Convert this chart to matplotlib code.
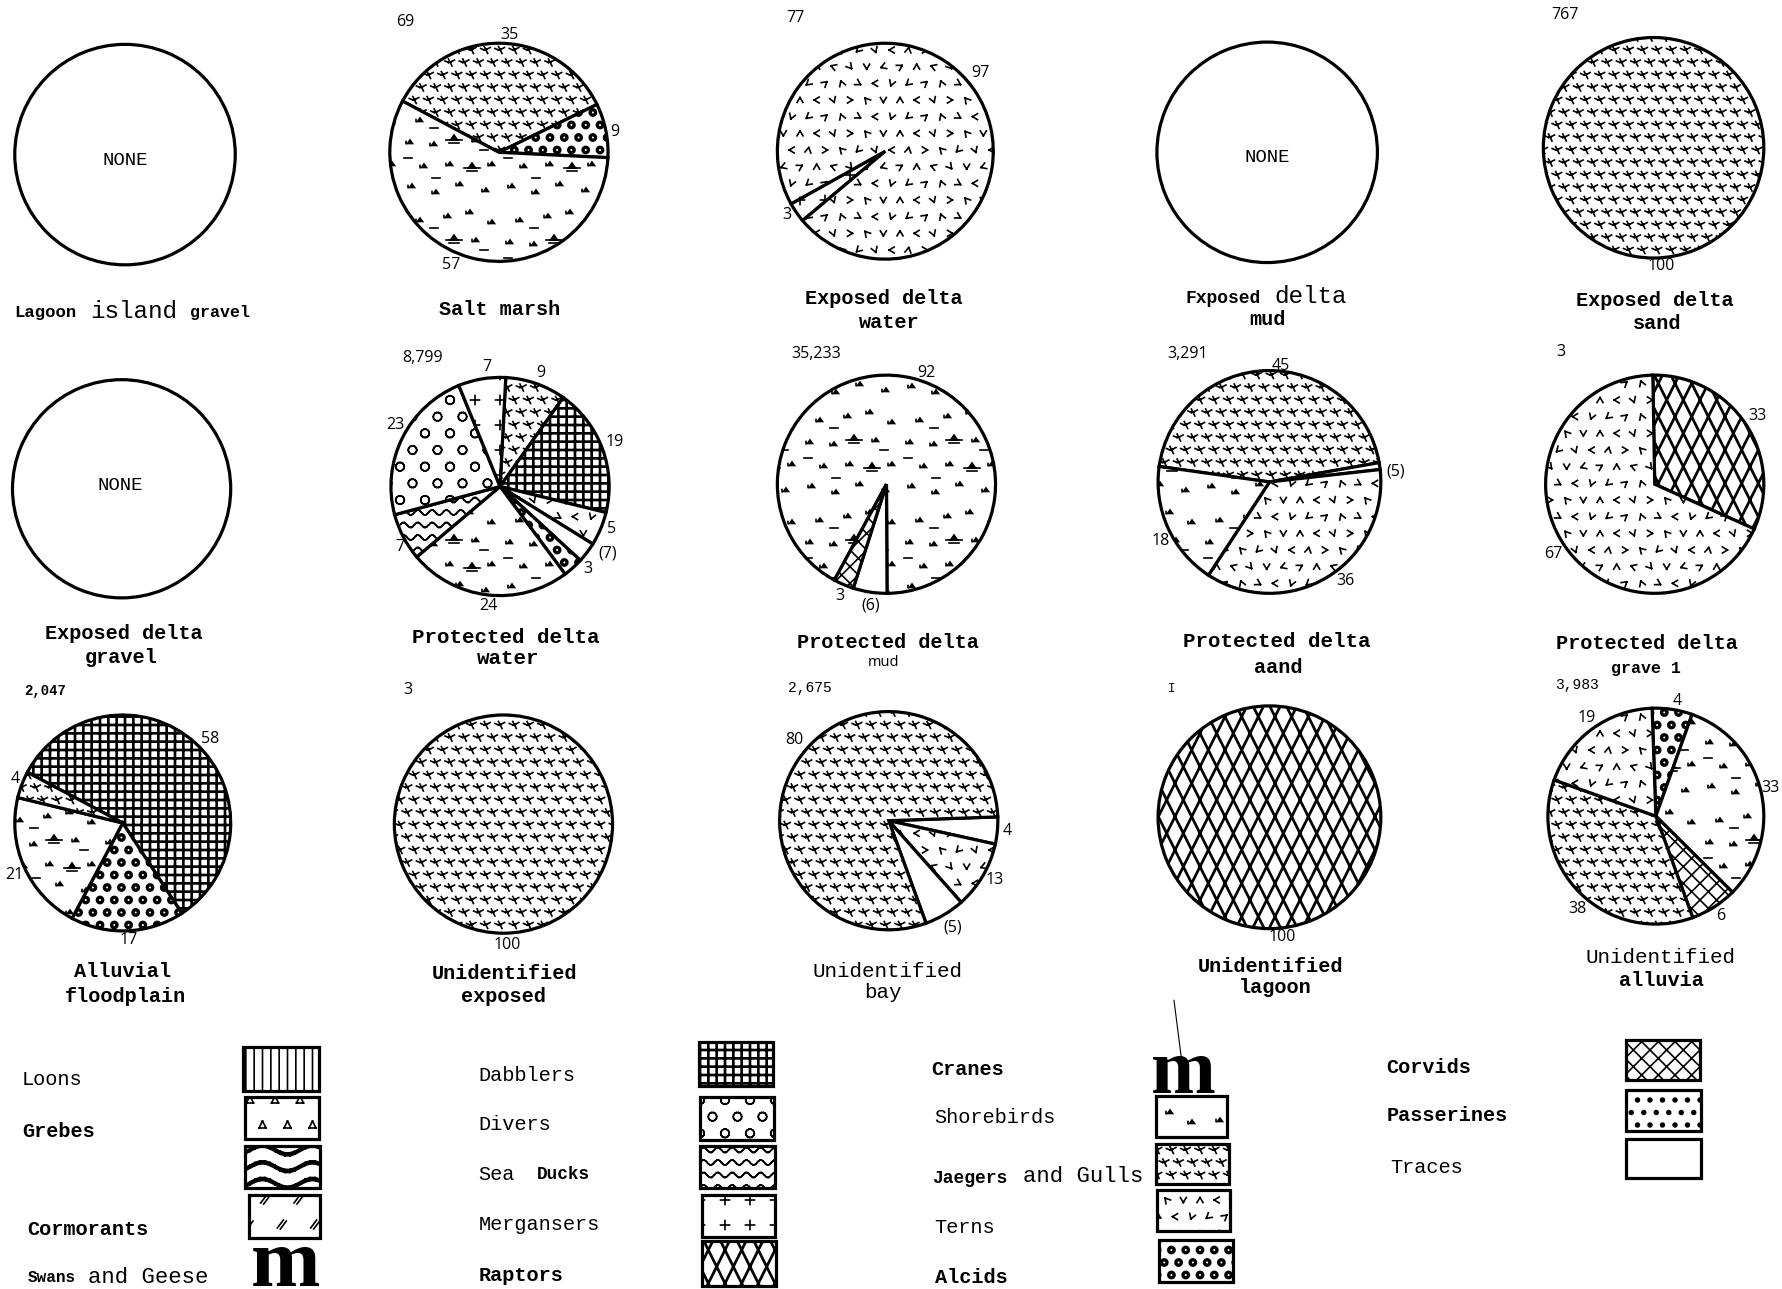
import warnings
import numpy as np
import matplotlib
matplotlib.use("Agg")
import matplotlib.hatch as mhatch
import matplotlib.pyplot as plt
from matplotlib.patches import Rectangle
from matplotlib.path import Path

# custom hatch letters below are registered by hand
warnings.filterwarnings("ignore", category=matplotlib.MatplotlibDeprecationWarning)

# ---- pie data: percent per slice, clockwise from start angle ----
salt_marsh = [35, 8, 57]
delta_water = [3, 97]
prot_water = [9, 19, 5, 3, 3, 24, 7, 23, 7]
prot_mud = [92, 5, 3]
prot_sand = [45, 1, 36, 18]
prot_gravel = [32, 68]
alluvial = [58, 17, 21, 4]
unid_bay = [4, 10, 6, 80]
unid_alluvia = [6, 32, 7, 36, 19]
whole = [100]

salt_groups = ["gulls", "alcids", "shorebirds"]
delta_water_groups = ["mergansers", "terns"]
prot_water_groups = ["gulls", "dabblers", "terns", "traces", "alcids", "shorebirds",
                     "seaducks", "divers", "mergansers"]
prot_mud_groups = ["shorebirds", "traces", "corvids"]
prot_sand_groups = ["gulls", "traces", "terns", "shorebirds"]
prot_gravel_groups = ["raptors", "terns"]
alluvial_groups = ["dabblers", "alcids", "shorebirds", "gulls"]
bay_groups = ["traces", "terns", "traces", "gulls"]
alluvia_groups = ["alcids", "shorebirds", "corvids", "gulls", "terns"]

BOLD = "bold"
THIN = "thin"


# ---- fill patterns, tile is 100 px wide at dpi 100 ----
def ring(r, n=14):
    t = np.linspace(0, 2 * np.pi, n + 1)
    return np.c_[r * np.cos(t), r * np.sin(t)]


class Tile(mhatch.HatchPatternBase):
    char = ""
    verts = np.empty((0, 2))
    codes = np.empty(0, dtype=Path.code_type)

    def __init__(self, hatch, density):
        self.num_vertices = len(self.verts) if self.char in hatch else 0

    def set_vertices_and_codes(self, vertices, codes):
        vertices[:] = self.verts
        codes[:] = self.codes


def add_tile(char, placed):
    """placed: list of (x, y, rot, [(pts, closed), ...]) in tile pixels"""
    vv, cc = [], []
    for x, y, rot, shape in placed:
        a = np.radians(rot)
        m = np.array([[np.cos(a), -np.sin(a)], [np.sin(a), np.cos(a)]])
        for pts, closed in shape:
            p = np.asarray(pts, float) @ m.T + [x, y]
            if closed:
                vv += list(p) + [p[0]]
                cc += [Path.MOVETO] + [Path.LINETO] * (len(p) - 1) + [Path.CLOSEPOLY]
            else:
                for a0, a1 in zip(p[:-1], p[1:]):
                    vv += [a0, a1]
                    cc += [Path.MOVETO, Path.LINETO]
    cls = type("Tile_" + char, (Tile,), {"char": char, "verts": np.array(vv) / 100.0,
                                         "codes": np.array(cc, dtype=Path.code_type)})
    mhatch._hatch_types.append(cls)


def grid(nx, ny, shape, stagger=True, rots=(0,)):
    out = []
    for j in range(ny + 1):
        off = 0.5 if (stagger and j % 2) else 0
        for i in range(-1, nx + 1):
            rot = rots[(i % nx + (j % ny) * nx) % len(rots)]
            out.append(((i + off) * 100 / nx, j * 100 / ny, rot, shape))
    return out


def wave_rows(ny, periods, amp, offsets=(0,)):
    x = np.linspace(0, 100, periods * 10 + 1)
    out = []
    for j in range(ny + 1):
        for d in offsets:
            pts = np.c_[x, amp * np.sin(2 * np.pi * periods * x / 100) + d]
            out.append((0, j * 100 / ny, 0, [(pts, False)]))
    return out


gull = [([(-5, 1.5), (-1.5, 0), (1, 0.7), (4.5, 2.5)], False), ([(-1.5, 3.5), (2, -3.5)], False)]
tuft = [([(-2.5, -1.5), (0, 2), (2.5, -1.5)], True), ([(-4, -1.5), (-4, 0.5)], False)]
big_tuft = [([(-8, -2), (8, -2)], False), ([(-3.5, -2), (0, 3), (3.5, -2)], True),
            ([(-5, -5), (5, -5)], False)]
dash = [([(-4, 0), (4, 0)], False)]
chevron = [([(-3, -2.5), (0, 2.5), (3, -2.5)], False)]
plus = [([(-4.5, 0), (4.5, 0)], False), ([(0, -4.5), (0, 4.5)], False)]
tri = [([(-3.5, -3), (0, 4), (3.5, -3), (-3.5, -3)], False)]
slashes = [([(-3, -4), (3, 4)], False), ([(-6, -3), (0, 5)], False)]
holed = [(ring(3.6)[:-1], True), (ring(1.9)[:-1][::-1], True)]

add_tile("g", grid(7, 8, gull))
add_tile("b", [(12, 14, 0, tuft), (36, 8, 0, tuft), (60, 16, 0, tuft), (86, 10, 0, tuft),
               (24, 34, 0, tuft), (50, 36, 0, tuft), (92, 36, 0, tuft),
               (10, 58, 0, tuft), (34, 56, 0, tuft), (76, 60, 0, tuft),
               (20, 80, 0, tuft), (48, 84, 0, tuft), (70, 88, 0, tuft), (92, 78, 0, tuft),
               (72, 34, 0, big_tuft), (54, 62, 0, big_tuft),
               (36, 22, 0, dash), (8, 42, 0, dash), (84, 50, 0, dash), (34, 72, 0, dash)])
add_tile("v", grid(6, 6, chevron, rots=(0, 90, 200, 270, 40, 180, 130, 310, 20, 240, 90, 160,
                                        300, 0, 70, 220, 180, 110, 350, 270, 45, 135, 200, 90)))
add_tile("e", grid(4, 6, [(ring(4.2), False)]))
add_tile("a", grid(7, 8, holed))
add_tile("p", grid(8, 8, [(ring(1.9)[:-1], True)]))
add_tile("m", grid(4, 4, plus, stagger=False))
add_tile("t", grid(4, 4, tri))
add_tile("c", grid(3, 4, slashes))
add_tile("d", wave_rows(8, 7, 2.5))
add_tile("w", wave_rows(6, 2, 4.5, offsets=(-1.5, 0, 1.5)))
lat = []
for i in range(-3, 9):
    for d in (-0.6, 0.6):
        x0 = i * 100 / 6 + d
        lat.append((0, 0, 0, [([(x0, 0), (x0 + 50, 100)], False)]))
        lat.append((0, 0, 0, [([(x0 + 50, 0), (x0, 100)], False)]))
add_tile("r", lat)
cross = []
for i in range(13):
    for d in (-0.5, 0.5):
        p = i * 100 / 12 + d
        cross.append((0, 0, 0, [([(p, 0), (p, 100)], False)]))
        cross.append((0, 0, 0, [([(0, p), (100, p)], False)]))
add_tile("h", cross)

hatches = {
    "loons": "||", "grebes": "t", "waves": "w", "cormorants": "c", "swans": "p",
    "dabblers": "h", "divers": "e", "seaducks": "d", "mergansers": "m", "raptors": "r",
    "cranes": None, "shorebirds": "b", "gulls": "g", "terns": "v", "alcids": "a",
    "corvids": "xx", "passerines": "p", "traces": None,
}

plt.rcParams["hatch.linewidth"] = 1.2
plt.rcParams["font.family"] = "Liberation Mono"

fig = plt.figure(figsize=(17.82, 12.89), dpi=100, facecolor="white")
ax = fig.add_axes([0, 0, 1, 1])
ax.set_zorder(5)
ax.set_xlim(0, 1568)
ax.set_ylim(1134, 0)
ax.axis("off")


def pie(cx, cy, r, values, groups=None, start=90):
    pad = 1.08
    w = 2 * r * pad / 1568
    h = 2 * r * pad / 1134
    a = fig.add_axes([cx / 1568 - w / 2, 1 - cy / 1134 - h / 2, w, h])
    fills = [hatches[g] for g in groups] if groups else [None]
    a.pie(values, startangle=start, counterclock=False, colors=["white"], hatch=fills,
          wedgeprops=dict(edgecolor="black", linewidth=2.3))
    a.set_xlim(-pad, pad)
    a.set_ylim(-pad, pad)


def txt(x, y, s, style=BOLD, size=14.6, ha="center"):
    if style == BOLD:
        ax.text(x, y, s, family="Liberation Mono", weight="bold", fontsize=size, ha=ha, va="center")
    elif style == THIN:
        ax.text(x, y, s, family="Liberation Mono", fontsize=size, ha=ha, va="center")
    else:
        ax.text(x, y, s, family="Open Sans", fontsize=size, ha=ha, va="center")


def num(x, y, s):
    txt(x, y, s, "num", 11.5)


# ---- row 1 ----
pie(110, 136, 97, whole)
pie(439, 134, 96, salt_marsh, salt_groups, 152)
pie(779, 133, 95, delta_water, delta_water_groups, 220)
pie(1115, 134, 97, whole)
pie(1455, 130, 97, whole, ["gulls"])
# ---- row 2 ----
pie(107, 430, 96, whole)
pie(440, 428, 96, prot_water, prot_water_groups, 87)
pie(780, 426, 96, prot_mud, prot_mud_groups, 241.5)
pie(1117, 424, 98, prot_sand, prot_sand_groups, 172)
pie(1456, 426, 96, prot_gravel, prot_gravel_groups, 91)
# ---- row 3 ----
pie(108, 724, 95, alluvial, alluvial_groups, 152)
pie(443, 725, 96, whole, ["gulls"])
pie(782, 722, 96, unid_bay, bay_groups, 2)
pie(1117, 719, 98, whole, ["raptors"])
pie(1457, 718, 95, unid_alluvia, alluvia_groups, 92)

for x, y in [(110, 141), (1115, 139), (106, 427)]:
    txt(x, y, "NONE", THIN, 13.6)

# ---- counts and percents ----
for x, y, s in [(357, 19, "69"), (448, 31, "35"), (541, 116, "9"), (397, 233, "57"),
                (700, 16, "77"), (863, 64, "97"), (692, 189, "3"),
                (1377, 13, "767"), (1462, 234, "100"),
                (372, 315, "8,799"), (428, 323, "7"), (476, 328, "9"), (541, 389, "19"),
                (538, 465, "5"), (535, 487, "(7)"), (517, 501, "3"), (430, 533, "24"),
                (352, 481, "7"), (348, 374, "23"),
                (718, 311, "35,233"), (815, 328, "92"), (739, 524, "3"), (766, 533, "(6)"),
                (1045, 311, "3,291"), (1127, 322, "45"), (1228, 415, "(5)"), (1184, 511, "36"),
                (1021, 476, "18"),
                (1373, 310, "3"), (1546, 366, "33"), (1367, 487, "67"),
                (185, 650, "58"), (13, 685, "4"), (13, 770, "21"), (113, 827, "17"),
                (359, 607, "3"), (446, 831, "100"),
                (699, 651, "80"), (886, 731, "4"), (875, 774, "13"), (838, 816, "(5)"),
                (1128, 824, "100"),
                (1476, 617, "4"), (1396, 632, "19"), (1558, 693, "33"), (1514, 806, "6"),
                (1388, 800, "38")]:
    num(x, y, s)
txt(40, 608, "2,047", BOLD, 10)
txt(713, 605, "2,675", THIN, 10.5)
txt(1031, 606, "I", THIN, 9)
txt(1388, 603, "3,983", THIN, 10.5)

# ---- pie titles ----
txt(40, 275, "Lagoon", BOLD, 12.5)
txt(118, 274, "island", THIN, 17.5)
txt(194, 275, "gravel", BOLD, 12)
txt(440, 272, "Salt marsh")
txt(778, 263, "Exposed delta")
txt(782, 284, "water")
txt(1076, 263, "Fxposed", BOLD, 13)
txt(1153, 261, "delta", THIN, 17.5)
txt(1115, 281, "mud")
txt(1456, 264, "Exposed delta")
txt(1458, 285, "sand")
txt(109, 557, "Exposed delta")
txt(107, 578, "gravel")
txt(445, 561, "Protected delta", BOLD, 15)
txt(447, 579, "water", BOLD, 15)
txt(781, 565, "Protected delta")
txt(777, 583, "mud", "num", 10.5)
txt(1123, 564, "Protected delta", BOLD, 15)
txt(1125, 587, "aand")
txt(1449, 566, "Protected delta")
txt(1448, 588, "grave 1", BOLD, 12)
txt(108, 855, "Alluvial")
txt(110, 877, "floodplain")
txt(444, 856, "Unidentified")
txt(443, 877, "exposed")
txt(781, 855, "Unidentified", THIN, 15)
txt(777, 873, "bay", THIN, 15)
txt(1118, 850, "Unidentified")
txt(1122, 869, "lagoon")
txt(1461, 842, "Unidentified", THIN, 15)
txt(1462, 863, "alluvia")

# ---- legend ----
legend_boxes = [
    (214, 921, 67, 39, "loons"), (216, 965, 65, 37, "grebes"), (216, 1008, 66, 37, "waves"),
    (219, 1051, 63, 38, "cormorants"),
    (615, 917, 65, 38, "dabblers"), (616, 965, 65, 38, "divers"), (616, 1008, 66, 37, "seaducks"),
    (618, 1051, 64, 37, "mergansers"), (618, 1092, 65, 39, "raptors"),
    (1017, 964, 63, 36, "shorebirds"), (1017, 1006, 64, 36, "gulls"), (1018, 1047, 64, 36, "terns"),
    (1020, 1091, 65, 37, "alcids"),
    (1431, 915, 65, 35, "corvids"), (1431, 959, 66, 36, "passerines"), (1431, 1002, 66, 34, "traces"),
]
for x, y, w, h, g in legend_boxes:
    ax.add_patch(Rectangle((x, y), w, h, facecolor="white", edgecolor="black", linewidth=2.3,
                           hatch=hatches[g]))

ax.add_patch(Rectangle((228, 1105), 48, 14, facecolor="white", edgecolor="none", hatch="a"))
ax.text(251, 1131, "m", family="Liberation Serif", weight="bold", fontsize=60, ha="center",
        va="baseline")
ax.text(1041, 962, "m", family="Liberation Serif", weight="bold", fontsize=56, ha="center",
        va="baseline")
ax.plot([1033, 1040], [880, 935], color="black", linewidth=0.8)

for x, y, s, style, size in [(19, 950, "Loons", THIN, 14.6), (20, 995, "Grebes", BOLD, 14.6),
                             (24, 1082, "Cormorants", BOLD, 14.6), (24, 1124, "Swans", BOLD, 11.5),
                             (77, 1124, "and Geese", THIN, 16),
                             (421, 946, "Dabblers", THIN, 14.6), (421, 989, "Divers", THIN, 14.6),
                             (421, 1033, "Sea", THIN, 14.6), (472, 1033, "Ducks", BOLD, 12.8),
                             (421, 1077, "Mergansers", THIN, 14.6), (421, 1122, "Raptors", BOLD, 14.6),
                             (819, 941, "Cranes", BOLD, 14.6), (822, 983, "Shorebirds", THIN, 14.6),
                             (820, 1037, "Jaegers", BOLD, 13), (900, 1035, "and Gulls", THIN, 16),
                             (822, 1080, "Terns", THIN, 14.6), (823, 1124, "Alcids", BOLD, 14.6),
                             (1220, 939, "Corvids", BOLD, 14.6), (1220, 981, "Passerines", BOLD, 14.6),
                             (1223, 1027, "Traces", THIN, 14.6)]:
    txt(x, y, s, style, size, ha="left")

fig.savefig("out.png", dpi=100, facecolor="white")
